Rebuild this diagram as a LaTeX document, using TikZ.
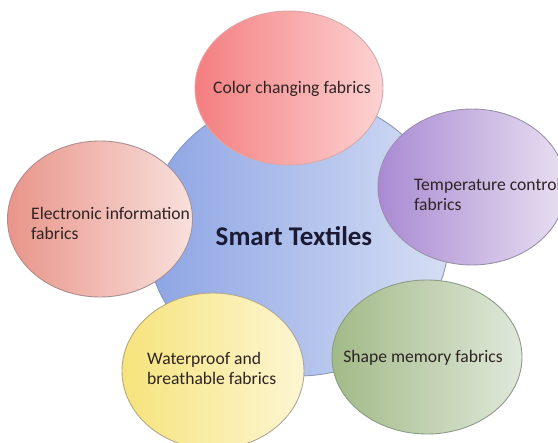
\documentclass[tikz,border=0pt]{standalone}
\usepackage{fontspec}
\setmainfont{Carlito}
\usetikzlibrary{shapes.geometric}

% fills: darker tone on the left, lighter on the right
\definecolor{hubL}{HTML}{8CA4E4}
\definecolor{hubR}{HTML}{D6DEF4}
\definecolor{hubE}{HTML}{8A98B8}
\definecolor{redL}{HTML}{F47E80}
\definecolor{redR}{HTML}{FDD2D2}
\definecolor{redE}{HTML}{D8A8A8}
\definecolor{purL}{HTML}{A98AD2}
\definecolor{purR}{HTML}{E8E0F2}
\definecolor{purE}{HTML}{9A90A8}
\definecolor{salL}{HTML}{E9958A}
\definecolor{salR}{HTML}{F9E0DC}
\definecolor{salE}{HTML}{A89090}
\definecolor{yelL}{HTML}{F6E37C}
\definecolor{yelR}{HTML}{FDF6D2}
\definecolor{yelE}{HTML}{B0A890}
\definecolor{grnL}{HTML}{A2BA88}
\definecolor{grnR}{HTML}{E0E8DA}
\definecolor{grnE}{HTML}{8C9C88}
\definecolor{txt}{HTML}{2E2424}
\definecolor{hubtxt}{HTML}{1A1A34}

\begin{document}
\begin{tikzpicture}[x=1pt,y=-1pt,
  blob/.style n args={3}{ellipse, inner sep=0pt, draw=#3, line width=0.9pt,
    left color=#1, right color=#2},
  label/.style={text=txt, font=\fontsize{17.6}{20}\selectfont, inner sep=0pt},
  hubtext/.style={text=hubtxt, font=\fontsize{27}{30}\selectfont\bfseries, inner sep=0pt}]

\useasboundingbox (0,0) rectangle (558,443);
\clip (0,0) rectangle (558,443);

% central hub
\node[blob={hubL}{hubR}{hubE}, minimum width=302pt, minimum height=280pt] (hub) at (298,236) {};

% surrounding categories
\node[blob={redL}{redR}{redE}, minimum width=188pt, minimum height=154pt] (color) at (289,88) {};
\node[blob={purL}{purR}{purE}, minimum width=188pt, minimum height=156pt] (temp) at (472,187) {};
\node[blob={salL}{salR}{salE}, minimum width=185pt, minimum height=156pt] (elec) at (100,219) {};
\node[blob={yelL}{yelR}{yelE}, minimum width=182pt, minimum height=156pt] (water) at (213,371) {};
\node[blob={grnL}{grnR}{grnE}, minimum width=190pt, minimum height=154pt] (shape) at (427,357) {};

% labels
\node[hubtext] (hubl) at (294,236) {Smart Textiles};
\node[label] (colorl) at (292,89) {Color changing fabrics};
\node[label, anchor=west, align=left] (templ) at (414,194) {Temperature control\\fabrics};
\node[label, anchor=west, align=left] (elecl) at (31,223) {Electronic information\\fabrics};
\node[label, anchor=west, align=left] (waterl) at (147,368) {Waterproof and\\breathable fabrics};
\node[label] (shapel) at (423,358) {Shape memory fabrics};
\end{tikzpicture}
\end{document}
